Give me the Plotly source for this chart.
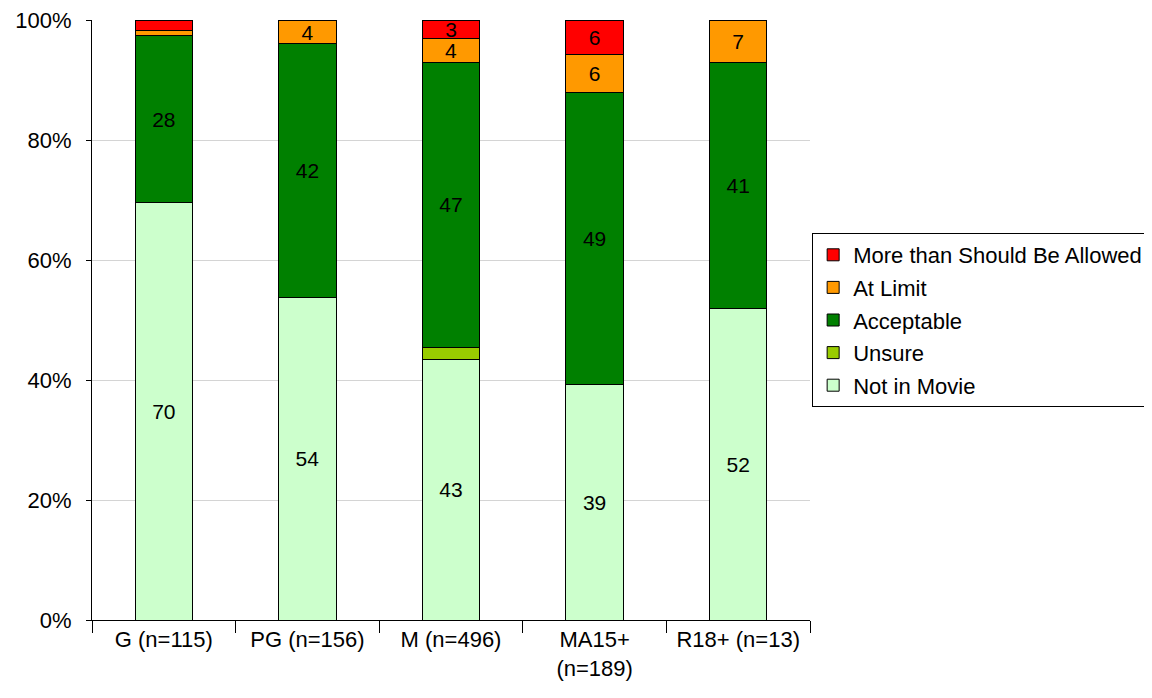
import plotly.graph_objects as go

categories = ["G (n=115)", "PG (n=156)", "M (n=496)", "MA15+<br>(n=189)", "R18+ (n=13)"]

not_in_movie = [69.6, 53.8, 43.5, 39.2, 52.0]
unsure = [0.0, 0.0, 2.0, 0.0, 0.0]
acceptable = [27.8, 42.3, 47.4, 48.7, 41.0]
at_limit = [0.9, 3.8, 4.0, 6.3, 7.0]
more_than = [1.7, 0.0, 3.0, 5.8, 0.0]

not_in_movie_lbl = ["70", "54", "43", "39", "52"]
unsure_lbl = ["", "", "", "", ""]
acceptable_lbl = ["28", "42", "47", "49", "41"]
at_limit_lbl = ["", "4", "4", "6", "7"]
more_than_lbl = ["", "", "3", "6", ""]

y_tickvals = [0, 20, 40, 60, 80, 100]
y_ticktext = ["0%", "20%", "40%", "60%", "80%", "100%"]

series = [
    ("Not in Movie", not_in_movie, not_in_movie_lbl, "#CCFFCC", 5),
    ("Unsure", unsure, unsure_lbl, "#99CC00", 4),
    ("Acceptable", acceptable, acceptable_lbl, "#008000", 3),
    ("At Limit", at_limit, at_limit_lbl, "#FF9900", 2),
    ("More than Should Be Allowed", more_than, more_than_lbl, "#FF0000", 1),
]

FONT = "Liberation Sans, Arial, sans-serif"
FS = 22
LFS = 21

fig = go.Figure()
for name, vals, lbls, col, rank in series:
    fig.add_trace(go.Bar(
        x=categories, y=vals, name=name, legendgroup=name, legendrank=rank,
        marker=dict(color=col, line=dict(color="black", width=1)),
        text=lbls, textposition="inside", insidetextanchor="middle",
        textfont=dict(family=FONT, size=LFS, color="black"),
        textangle=0, cliponaxis=False,
    ))

fig.update_layout(
    width=1144, height=690,
    barmode="stack", bargap=0.6,
    plot_bgcolor="white", paper_bgcolor="white",
    margin=dict(l=84, r=342, t=12, b=78, autoexpand=False),
    font=dict(family=FONT, size=FS, color="black"),
    uniformtext=dict(minsize=LFS, mode="show"),
    legend=dict(
        x=1.003, y=0.645, xanchor="left", yanchor="top",
        bordercolor="black", borderwidth=1, bgcolor="white",
        traceorder="grouped", tracegroupgap=1,
        font=dict(family=FONT, size=FS, color="black"),
        itemwidth=30,
    ),
    showlegend=True,
)
fig.update_yaxes(
    range=[0, 100], tickvals=y_tickvals, ticktext=y_ticktext,
    showgrid=True, gridcolor="#D4D4D4", gridwidth=1,
    showline=True, linecolor="black", linewidth=1,
    ticks="outside", ticklen=5, tickcolor="black",
    ticklabelstandoff=10, zeroline=False, automargin=False,
    ticklabeloverflow="allow",
)
fig.update_xaxes(
    showline=True, linecolor="black", linewidth=1,
    ticks="outside", ticklen=12, tickcolor="black", tickson="boundaries",
    showgrid=False, automargin=False,
)

fig.write_html("out.html")
